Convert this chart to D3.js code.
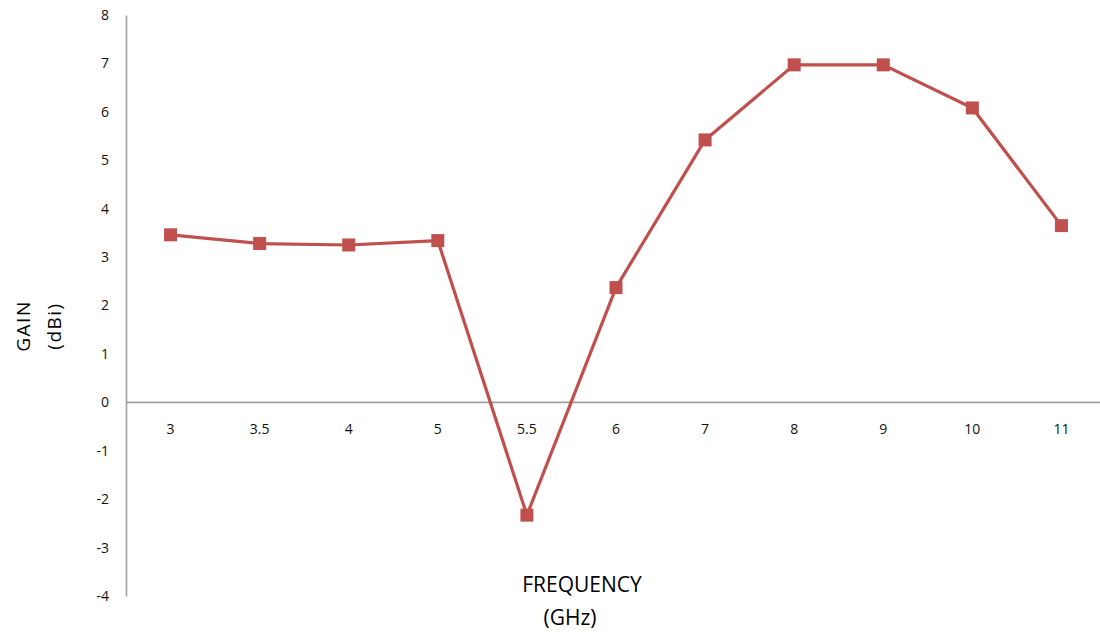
<!DOCTYPE html>
<html>
<head>
<meta charset="utf-8">
<script src="https://cdn.jsdelivr.net/npm/d3@7"></script>
<style>
  html, body { margin: 0; padding: 0; background: #fff; }
  svg { display: block; font-family: "Open Sans", "Noto Sans", sans-serif; }
</style>
</head>
<body>
<svg id="chart" width="1100" height="635"></svg>
<script>
const categories = ["3", "3.5", "4", "5", "5.5", "6", "7", "8", "9", "10", "11"];
const gainValues = [3.46, 3.28, 3.25, 3.34, -2.33, 2.37, 5.42, 6.97, 6.97, 6.08, 3.65];
const yTicks = [-4, -3, -2, -1, 0, 1, 2, 3, 4, 5, 6, 7, 8];

const svg = d3.select("#chart");
const axisColor = "#a0a0a0";
const lineColor = "#C0504D";

const x = d3.scaleBand().domain(categories).range([126, 1106]).padding(0);
const y = d3.scaleLinear().domain([-4, 8]).range([596, 15]);

// y axis
const yAxis = d3.axisLeft(y).tickValues(yTicks).tickSize(0).tickPadding(17).tickFormat(d => String(d));
const gy = svg.append("g").attr("transform", "translate(126,0)").call(yAxis);
gy.attr("font-family", null);
gy.select(".domain").attr("stroke", axisColor).attr("stroke-width", 1.6);
gy.selectAll("text").attr("font-size", 14).attr("fill", "#111");

// x axis at zero
const xAxis = d3.axisBottom(x).tickSize(0).tickPadding(22);
const gx = svg.append("g").attr("transform", `translate(0,${y(0)})`).call(xAxis);
gx.attr("font-family", null);
gx.select(".domain").remove();
gx.append("line").attr("x1", 126).attr("x2", 1100).attr("y1", 0).attr("y2", 0)
  .attr("stroke", axisColor).attr("stroke-width", 1.6);
gx.selectAll("text").attr("font-size", 14).attr("fill", "#111");

// line
const data = categories.map((c, i) => ({ c, v: gainValues[i] }));
const line = d3.line().x(d => x(d.c) + x.bandwidth() / 2).y(d => y(d.v));
svg.append("path").datum(data).attr("d", line)
  .attr("fill", "none").attr("stroke", lineColor).attr("stroke-width", 3.2)
  .attr("stroke-linejoin", "round");

// markers
const ms = 13;
svg.selectAll("rect.mk").data(data).enter().append("rect").attr("class", "mk")
  .attr("x", d => x(d.c) + x.bandwidth() / 2 - ms / 2)
  .attr("y", d => y(d.v) - ms / 2)
  .attr("width", ms).attr("height", ms)
  .attr("fill", lineColor);

// axis titles
const yt = svg.append("text").attr("transform", "translate(30,326) rotate(-90)")
  .attr("text-anchor", "middle").attr("font-size", 19).attr("fill", "#000")
  .attr("letter-spacing", 1.5);
yt.append("tspan").attr("x", 0).attr("dy", 0).text("GAIN");
yt.append("tspan").attr("x", 0).attr("dy", 31).text("(dBi)");

svg.append("text").attr("x", 582).attr("y", 592).attr("text-anchor", "middle")
  .attr("font-size", 21).attr("fill", "#000").text("FREQUENCY");
svg.append("text").attr("x", 570).attr("y", 625).attr("text-anchor", "middle")
  .attr("font-size", 21).attr("fill", "#000").text("(GHz)");
</script>
</body>
</html>
